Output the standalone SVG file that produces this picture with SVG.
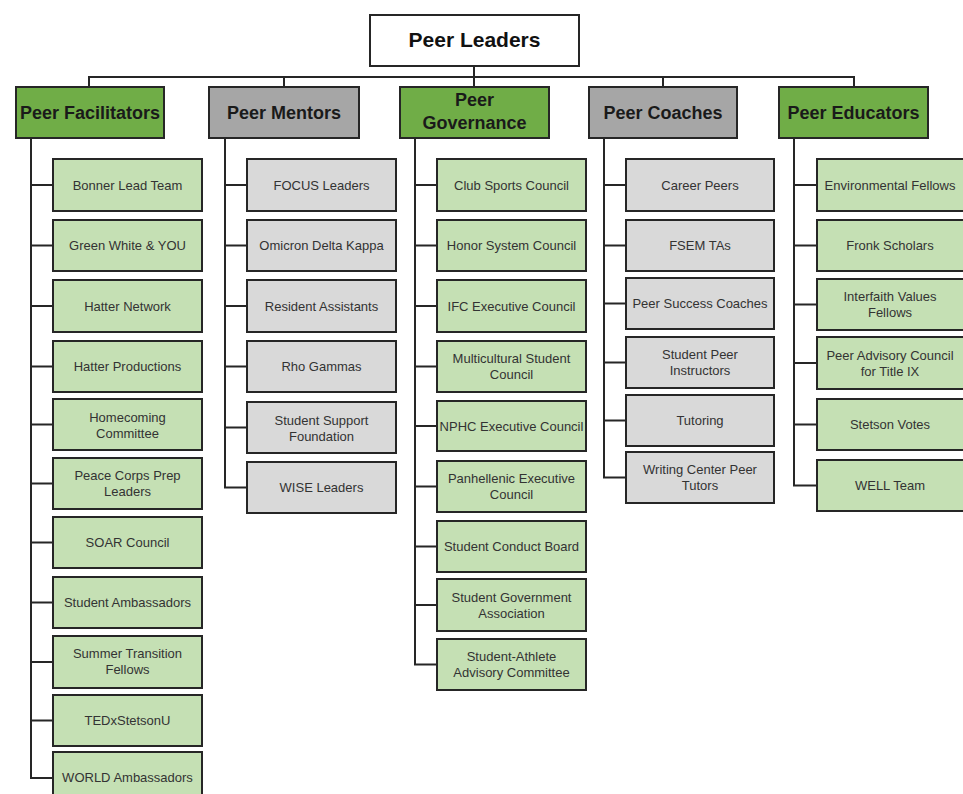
<svg xmlns="http://www.w3.org/2000/svg" width="963" height="794" viewBox="0 0 963 794">
<style>
.bg{fill:#ffffff}
.ln{fill:none;stroke:#262626;stroke-width:2}
.box{stroke:#262626;stroke-width:2}
.root{fill:#ffffff}
.g1{fill:#70ad47}
.s1{fill:#a6a6a6}
.g2{fill:#c5e0b4}
.s2{fill:#d9d9d9}
.t0{font-family:"Liberation Sans",Arial,sans-serif;font-weight:bold;font-size:21px;fill:#111;text-anchor:middle}
.t1{font-family:"Liberation Sans",Arial,sans-serif;font-weight:bold;font-size:18px;fill:#1a1a1a;text-anchor:middle}
.t2{font-family:"Liberation Sans",Arial,sans-serif;font-size:13px;fill:#333;text-anchor:middle}
</style>
<rect class="bg" x="0" y="0" width="963" height="794"/>
<g id="connectors">
<path class="ln" d="M474,66 V87 M89,87 V77 H854 V87 M284,77 V87 M663,77 V87"/>
<path class="ln" d="M31,138 V778 H53 M31,185 H53 M31,245.5 H53 M31,306 H53 M31,366.5 H53 M31,424.5 H53 M31,483.5 H53 M31,542.5 H53 M31,602.5 H53 M31,662 H53 M31,720.5 H53"/>
<path class="ln" d="M225,138 V487.5 H247 M225,185 H247 M225,245.5 H247 M225,306 H247 M225,366.5 H247 M225,427.5 H247"/>
<path class="ln" d="M415,138 V664.5 H437 M415,185 H437 M415,245.5 H437 M415,306 H437 M415,366.5 H437 M415,426 H437 M415,486.5 H437 M415,546.5 H437 M415,605 H437"/>
<path class="ln" d="M604,138 V477.5 H626 M604,185 H626 M604,245.5 H626 M604,303.5 H626 M604,362.5 H626 M604,420.5 H626"/>
<path class="ln" d="M794,138 V485.5 H817 M794,185 H817 M794,245.5 H817 M794,304.5 H817 M794,363 H817 M794,424.5 H817"/>
</g>
<g id="peer-leaders"><rect class="box root" x="370" y="15" width="209" height="51"/><text class="t0" x="474.5" y="47">Peer Leaders</text></g>
<g id="peer-facilitators"><rect class="box g1" x="16" y="87" width="148" height="51"/><text class="t1" x="90" y="119">Peer Facilitators</text></g>
<g id="peer-mentors"><rect class="box s1" x="209" y="87" width="150" height="51"/><text class="t1" x="284" y="119">Peer Mentors</text></g>
<g id="peer-governance"><rect class="box g1" x="400" y="87" width="149" height="51"/><text class="t1" x="474.5" y="106">Peer</text><text class="t1" x="474.5" y="129">Governance</text></g>
<g id="peer-coaches"><rect class="box s1" x="589" y="87" width="148" height="51"/><text class="t1" x="663" y="119">Peer Coaches</text></g>
<g id="peer-educators"><rect class="box g1" x="779" y="87" width="149" height="51"/><text class="t1" x="853.5" y="119">Peer Educators</text></g>

<g id="bonner-lead-team"><rect class="box g2" x="53" y="159" width="149" height="52"/><text class="t2" x="127.5" y="189.5">Bonner Lead Team</text></g>
<g id="green-white-you"><rect class="box g2" x="53" y="220" width="149" height="51"/><text class="t2" x="127.5" y="250">Green White &amp; YOU</text></g>
<g id="hatter-network"><rect class="box g2" x="53" y="280" width="149" height="52"/><text class="t2" x="127.5" y="310.5">Hatter Network</text></g>
<g id="hatter-productions"><rect class="box g2" x="53" y="341" width="149" height="51"/><text class="t2" x="127.5" y="371">Hatter Productions</text></g>
<g id="homecoming-committee"><rect class="box g2" x="53" y="399" width="149" height="51"/><text class="t2" x="127.5" y="421.5">Homecoming</text><text class="t2" x="127.5" y="437.5">Committee</text></g>
<g id="peace-corps"><rect class="box g2" x="53" y="458" width="149" height="51"/><text class="t2" x="127.5" y="480">Peace Corps Prep</text><text class="t2" x="127.5" y="496">Leaders</text></g>
<g id="soar-council"><rect class="box g2" x="53" y="517" width="149" height="51"/><text class="t2" x="127.5" y="547">SOAR Council</text></g>
<g id="student-ambassadors"><rect class="box g2" x="53" y="577" width="149" height="51"/><text class="t2" x="127.5" y="607">Student Ambassadors</text></g>
<g id="summer-transition"><rect class="box g2" x="53" y="636" width="149" height="52"/><text class="t2" x="127.5" y="658">Summer Transition</text><text class="t2" x="127.5" y="674">Fellows</text></g>
<g id="tedx"><rect class="box g2" x="53" y="695" width="149" height="51"/><text class="t2" x="127.5" y="725">TEDxStetsonU</text></g>
<g id="world-ambassadors"><rect class="box g2" x="53" y="752" width="149" height="52"/><text class="t2" x="127.5" y="782">WORLD Ambassadors</text></g>

<g id="focus-leaders"><rect class="box s2" x="247" y="159" width="149" height="52"/><text class="t2" x="321.5" y="189.5">FOCUS Leaders</text></g>
<g id="omicron"><rect class="box s2" x="247" y="220" width="149" height="51"/><text class="t2" x="321.5" y="250">Omicron Delta Kappa</text></g>
<g id="resident-assistants"><rect class="box s2" x="247" y="280" width="149" height="52"/><text class="t2" x="321.5" y="310.5">Resident Assistants</text></g>
<g id="rho-gammas"><rect class="box s2" x="247" y="341" width="149" height="51"/><text class="t2" x="321.5" y="371">Rho Gammas</text></g>
<g id="student-support"><rect class="box s2" x="247" y="402" width="149" height="51"/><text class="t2" x="321.5" y="424.5">Student Support</text><text class="t2" x="321.5" y="440.5">Foundation</text></g>
<g id="wise-leaders"><rect class="box s2" x="247" y="462" width="149" height="51"/><text class="t2" x="321.5" y="492">WISE Leaders</text></g>

<g id="club-sports"><rect class="box g2" x="437" y="159" width="149" height="52"/><text class="t2" x="511.5" y="189.5">Club Sports Council</text></g>
<g id="honor-system"><rect class="box g2" x="437" y="220" width="149" height="51"/><text class="t2" x="511.5" y="250">Honor System Council</text></g>
<g id="ifc"><rect class="box g2" x="437" y="280" width="149" height="52"/><text class="t2" x="511.5" y="310.5">IFC Executive Council</text></g>
<g id="multicultural"><rect class="box g2" x="437" y="341" width="149" height="51"/><text class="t2" x="511.5" y="363">Multicultural Student</text><text class="t2" x="511.5" y="379">Council</text></g>
<g id="nphc"><rect class="box g2" x="437" y="401" width="149" height="50"/><text class="t2" x="511.5" y="430.5">NPHC Executive Council</text></g>
<g id="panhellenic"><rect class="box g2" x="437" y="461" width="149" height="51"/><text class="t2" x="511.5" y="483">Panhellenic Executive</text><text class="t2" x="511.5" y="499">Council</text></g>
<g id="conduct-board"><rect class="box g2" x="437" y="521" width="149" height="51"/><text class="t2" x="511.5" y="551">Student Conduct Board</text></g>
<g id="sga"><rect class="box g2" x="437" y="579" width="149" height="52"/><text class="t2" x="511.5" y="601.5">Student Government</text><text class="t2" x="511.5" y="617.5">Association</text></g>
<g id="saac"><rect class="box g2" x="437" y="639" width="149" height="51"/><text class="t2" x="511.5" y="661">Student-Athlete</text><text class="t2" x="511.5" y="677">Advisory Committee</text></g>

<g id="career-peers"><rect class="box s2" x="626" y="159" width="148" height="52"/><text class="t2" x="700" y="189.5">Career Peers</text></g>
<g id="fsem-tas"><rect class="box s2" x="626" y="220" width="148" height="51"/><text class="t2" x="700" y="250">FSEM TAs</text></g>
<g id="peer-success"><rect class="box s2" x="626" y="278" width="148" height="51"/><text class="t2" x="700" y="308">Peer Success Coaches</text></g>
<g id="student-peer-instructors"><rect class="box s2" x="626" y="337" width="148" height="51"/><text class="t2" x="700" y="359">Student Peer</text><text class="t2" x="700" y="375">Instructors</text></g>
<g id="tutoring"><rect class="box s2" x="626" y="395" width="148" height="51"/><text class="t2" x="700" y="425">Tutoring</text></g>
<g id="writing-center"><rect class="box s2" x="626" y="452" width="148" height="51"/><text class="t2" x="700" y="474">Writing Center Peer</text><text class="t2" x="700" y="490">Tutors</text></g>

<g id="environmental-fellows"><rect class="box g2" x="817" y="159" width="149" height="52"/><text class="t2" x="890" y="189.5">Environmental Fellows</text></g>
<g id="fronk-scholars"><rect class="box g2" x="817" y="220" width="149" height="51"/><text class="t2" x="890" y="250">Fronk Scholars</text></g>
<g id="interfaith"><rect class="box g2" x="817" y="279" width="149" height="51"/><text class="t2" x="890" y="301">Interfaith Values</text><text class="t2" x="890" y="317">Fellows</text></g>
<g id="peer-advisory"><rect class="box g2" x="817" y="337" width="149" height="52"/><text class="t2" x="890" y="359.5">Peer Advisory Council</text><text class="t2" x="890" y="375.5">for Title IX</text></g>
<g id="stetson-votes"><rect class="box g2" x="817" y="399" width="149" height="51"/><text class="t2" x="890" y="429">Stetson Votes</text></g>
<g id="well-team"><rect class="box g2" x="817" y="460" width="149" height="51"/><text class="t2" x="890" y="490">WELL Team</text></g>
</svg>
